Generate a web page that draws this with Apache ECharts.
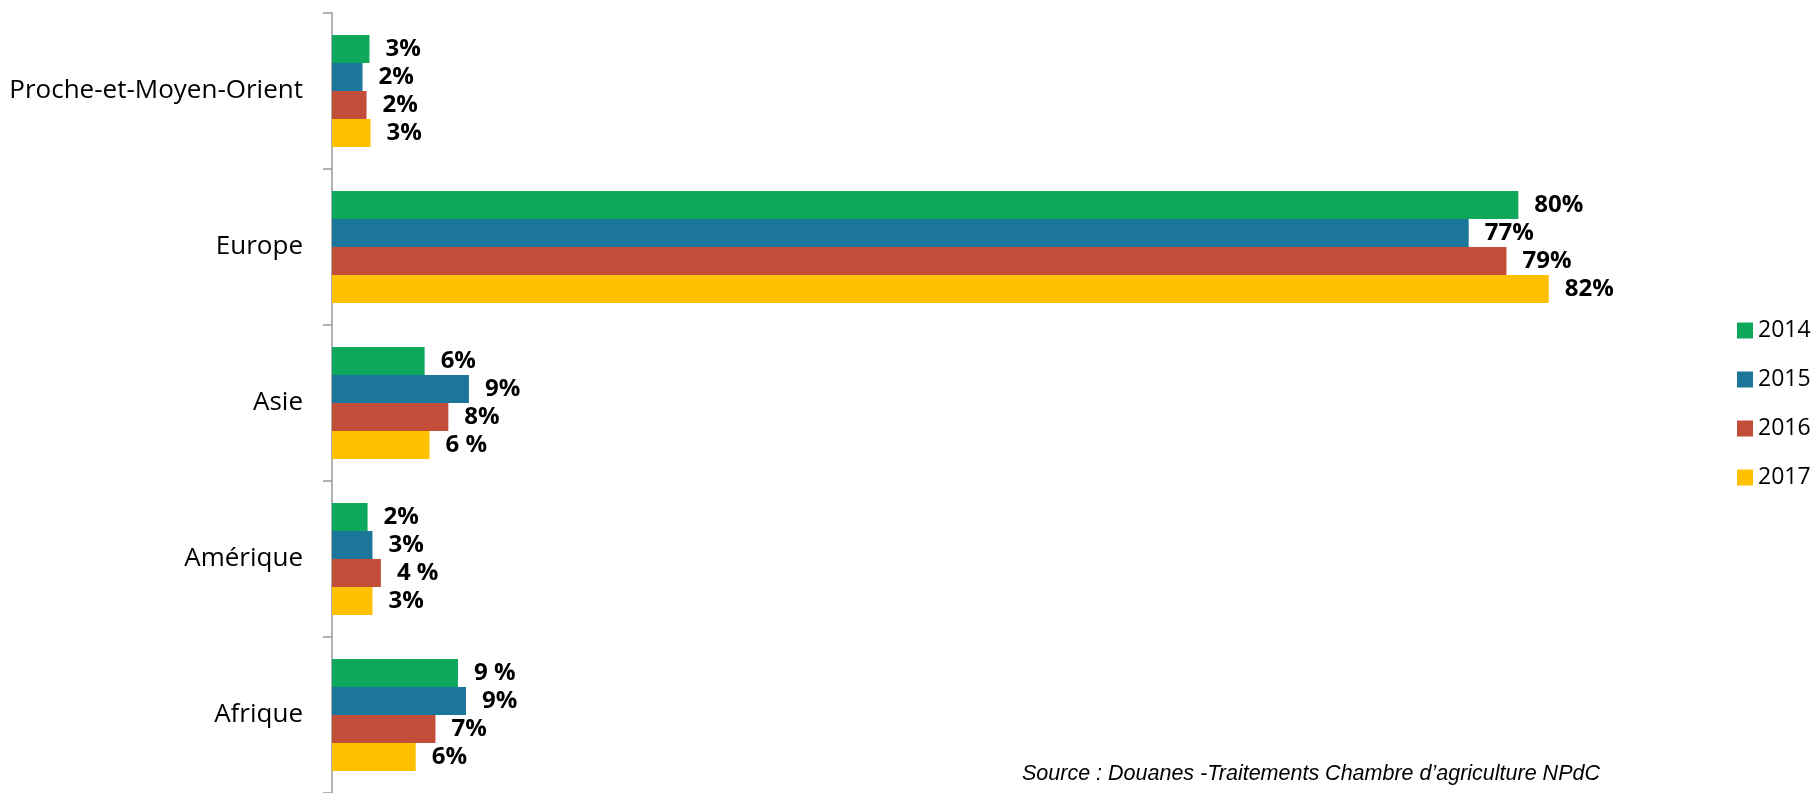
<!DOCTYPE html>
<html>
<head>
<meta charset="utf-8">
<script src="https://cdn.jsdelivr.net/npm/echarts@6/dist/echarts.min.js"></script>
<style>
html,body{margin:0;padding:0;background:#fff;}
#chart{width:1814px;height:793px;}
</style>
</head>
<body>
<div id="chart"></div>
<script>
const categories = ['Proche-et-Moyen-Orient', 'Europe', 'Asie', 'Amérique', 'Afrique'];
const seriesNames = ['2014', '2015', '2016', '2017'];
const v2014 = [2.53, 80.05, 6.25, 2.4, 8.5];
const v2015 = [2.06, 76.7, 9.24, 2.73, 9.04];
const v2016 = [2.33, 79.25, 7.85, 3.3, 6.98];
const v2017 = [2.6, 82.1, 6.58, 2.73, 5.65];
const l2014 = ['3%', '80%', '6%', '2%', '9 %'];
const l2015 = ['2%', '77%', '9%', '3%', '9%'];
const l2016 = ['2%', '79%', '8%', '4 %', '7%'];
const l2017 = ['3%', '82%', '6 %', '3%', '6%'];
const colors = ['#0EA85C', '#1C7699', '#C24D39', '#FFC000'];
const sourceText = 'Source : Douanes -Traitements Chambre d’agriculture NPdC';

const values = [v2014, v2015, v2016, v2017];
const labels = [l2014, l2015, l2016, l2017];

const chart = echarts.init(document.getElementById('chart'));
chart.setOption({
  animation: false,
  backgroundColor: '#fff',
  grid: { left: 332, top: 13, width: 1505, height: 780 },
  legend: {
    orient: 'vertical',
    left: 1732,
    top: 314,
    itemWidth: 16,
    itemHeight: 16,
    itemGap: 26,
    icon: 'rect',
    textStyle: { fontFamily: 'Open Sans', fontSize: 23, color: '#000' },
    data: seriesNames
  },
  xAxis: {
    type: 'value', min: 0, max: 100, show: false,
    splitLine: { show: false }
  },
  yAxis: {
    type: 'category',
    inverse: true,
    data: categories,
    axisLine: { show: true, lineStyle: { color: '#999', width: 1.5 } },
    axisTick: { show: true, length: 9, lineStyle: { color: '#999', width: 1.5 } },
    axisLabel: { margin: 29, fontFamily: 'Open Sans', fontSize: 26, color: '#000' }
  },
  series: seriesNames.map((n, i) => ({
    name: n,
    type: 'bar',
    barWidth: 28,
    barGap: '0%',
    itemStyle: { color: colors[i] },
    data: values[i].map((v, j) => ({ value: v, label: { formatter: labels[i][j] } })),
    label: {
      show: true,
      position: 'right',
      distance: 16,
      fontFamily: 'Open Sans',
      fontWeight: 'bold',
      fontSize: 24,
      color: '#000'
    }
  })),
  graphic: [{
    type: 'text',
    left: 1022,
    top: 763,
    style: {
      text: sourceText,
      font: 'italic 21.5px "Liberation Sans", Arial, sans-serif',
      fill: '#000'
    }
  }]
});
</script>
</body>
</html>
